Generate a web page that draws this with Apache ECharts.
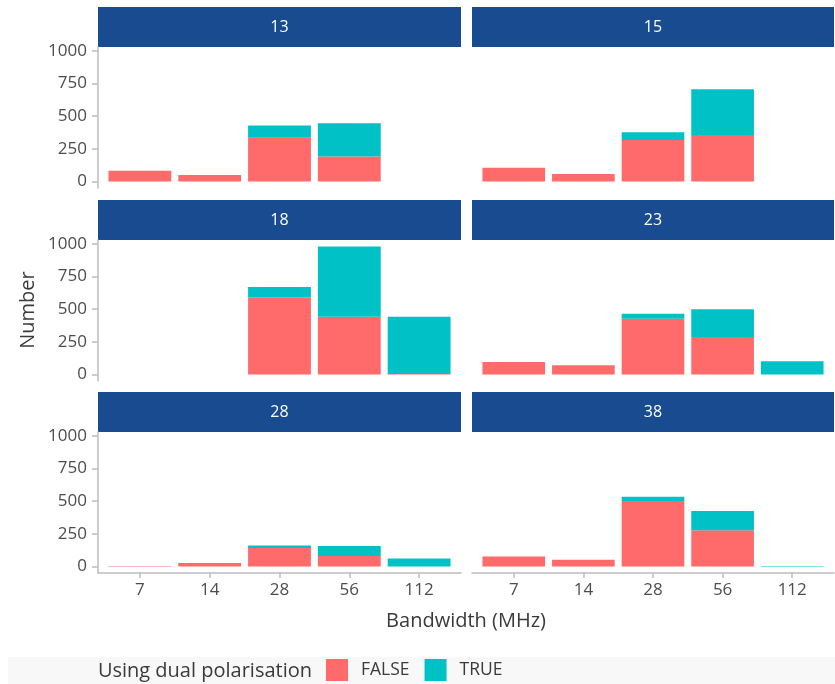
<!DOCTYPE html>
<html>
<head>
<meta charset="utf-8">
<script src="https://cdn.jsdelivr.net/npm/echarts@6/dist/echarts.min.js"></script>
<style>
html,body{margin:0;padding:0;background:#fff;}
#chart{width:835px;height:684px;}
</style>
</head>
<body>
<div id="chart"></div>
<script>
// ---- data ----
const categories = ['7', '14', '28', '56', '112'];
const panelLabels = ['13', '15', '18', '23', '28', '38'];
const yTicks = [0, 250, 500, 750, 1000];
const false13 = [82, 50, 336, 192, 0];
const true13  = [0, 0, 92, 254, 0];
const false15 = [105, 58, 318, 356, 0];
const true15  = [0, 0, 60, 350, 0];
const false18 = [0, 0, 590, 443, 5];
const true18  = [0, 0, 79, 537, 438];
const false23 = [97, 71, 427, 288, 0];
const true23  = [0, 0, 39, 211, 102];
const false28 = [5, 28, 142, 81, 0];
const true28  = [0, 0, 20, 76, 61];
const false38 = [78, 53, 501, 278, 0];
const true38  = [0, 0, 33, 147, 5];

const falseSets = [false13, false15, false18, false23, false28, false38];
const trueSets = [true13, true15, true18, true23, true28, true38];

// ---- layout ----
const FONT = 'Open Sans';
const colLeft = [98, 472];
const colWidth = [363, 362];
const rowTop = [47, 240, 432];
const plotH = 141;
const stripH = 40;
const yMin = -49, yMax = 1029;
const xMin = -0.6, xMax = 4.6;
const cFalse = '#FE6B6A';
const cTrue = '#00C1C6';
const stripColor = '#184B8F';
const axisColor = '#BDBDBD';
const tickText = '#4D4D4D';
const titleText = '#3A3A3A';

const grids = [], xAxes = [], yAxes = [], series = [], graphics = [];

panelLabels.forEach((lab, i) => {
  const col = i % 2, row = Math.floor(i / 2);
  const left = colLeft[col], w = colWidth[col], top = rowTop[row];
  grids.push({ left: left, top: top, width: w, height: plotH, containLabel: false });
  const bottomRow = row === 2, leftCol = col === 0;
  xAxes.push({
    type: 'value', gridIndex: i, min: xMin, max: xMax,
    splitLine: { show: false },
    axisLine: { show: bottomRow, onZero: false, lineStyle: { color: axisColor, width: 1.5 } },
    axisTick: { show: bottomRow, length: 5, customValues: [0, 1, 2, 3, 4], lineStyle: { color: axisColor, width: 1.5 } },
    axisLabel: {
      show: bottomRow, customValues: [0, 1, 2, 3, 4], margin: 9,
      formatter: v => categories[Math.round(v)],
      color: tickText, fontFamily: FONT, fontSize: 17
    }
  });
  yAxes.push({
    type: 'value', gridIndex: i, min: yMin, max: yMax,
    splitLine: { show: false },
    axisLine: { show: leftCol, onZero: false, lineStyle: { color: axisColor, width: 1.5 } },
    axisTick: { show: leftCol, length: 6, customValues: yTicks, lineStyle: { color: axisColor, width: 1.5 } },
    axisLabel: {
      show: leftCol, customValues: yTicks, margin: 11,
      formatter: v => String(v),
      color: tickText, fontFamily: FONT, fontSize: 17
    }
  });
  const bw = w / (xMax - xMin) * 0.9;
  // data as [count, bandwidthIndex]; encode maps column 1 to x, column 0 to y
  series.push({
    name: 'FALSE', type: 'bar', xAxisIndex: i, yAxisIndex: i, stack: 'p' + i,
    barWidth: bw, itemStyle: { color: cFalse },
    encode: { x: 1, y: 0 },
    data: falseSets[i].map((v, k) => [v, k])
  });
  series.push({
    name: 'TRUE', type: 'bar', xAxisIndex: i, yAxisIndex: i, stack: 'p' + i,
    barWidth: bw, itemStyle: { color: cTrue },
    encode: { x: 1, y: 0 },
    data: trueSets[i].map((v, k) => [v, k])
  });
  graphics.push({
    type: 'rect', shape: { x: left, y: top - stripH, width: w, height: stripH },
    style: { fill: stripColor }, silent: true
  });
  graphics.push({
    type: 'text', x: left + w / 2, y: top - stripH / 2,
    style: { text: lab, fill: '#FFFFFF', font: '16px "' + FONT + '"', textAlign: 'center', textVerticalAlign: 'middle' },
    silent: true
  });
});

// bottom light band
graphics.unshift({ type: 'rect', shape: { x: 8, y: 657, width: 827, height: 27 }, style: { fill: '#F8F8F8' }, silent: true, z: -10 });
// axis titles
graphics.push({
  type: 'text', x: 28, y: 310, rotation: Math.PI / 2,
  style: { text: 'Number', fill: titleText, font: '20px "' + FONT + '"', textAlign: 'center', textVerticalAlign: 'middle' }
});
graphics.push({
  type: 'text', x: 466, y: 621,
  style: { text: 'Bandwidth (MHz)', fill: titleText, font: '20px "' + FONT + '"', textAlign: 'center', textVerticalAlign: 'middle' }
});
graphics.push({
  type: 'text', x: 312, y: 671,
  style: { text: 'Using dual polarisation', fill: titleText, font: '20px "' + FONT + '"', textAlign: 'right', textVerticalAlign: 'middle' }
});

const chart = echarts.init(document.getElementById('chart'), null, { renderer: 'canvas' });
chart.setOption({
  animation: false,
  backgroundColor: '#FFFFFF',
  grid: grids,
  xAxis: xAxes,
  yAxis: yAxes,
  series: series,
  legend: {
    data: ['FALSE', 'TRUE'], left: 326, top: 659, padding: 0, icon: 'rect',
    itemWidth: 22, itemHeight: 22, itemGap: 15,
    textStyle: { color: titleText, fontFamily: FONT, fontSize: 17.5, padding: [0, 0, 0, 8] }
  },
  graphic: graphics
});
</script>
</body>
</html>
